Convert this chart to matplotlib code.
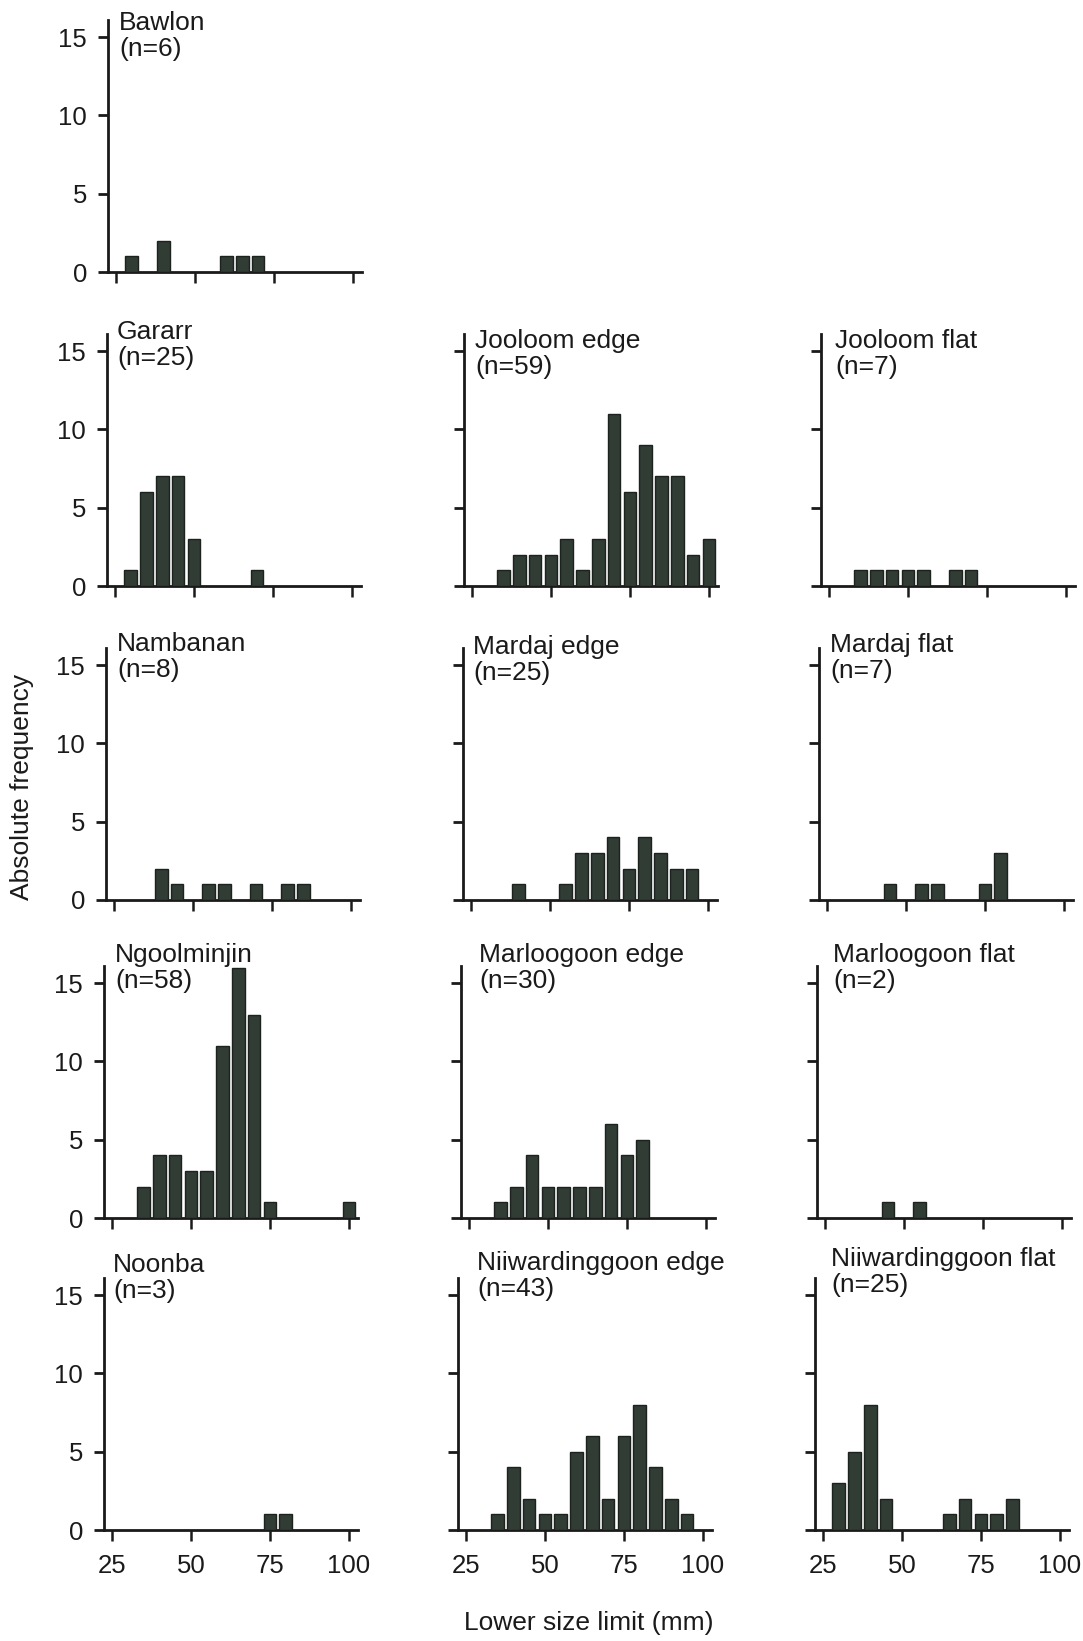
import matplotlib
matplotlib.use('Agg')
import matplotlib.pyplot as plt

plt.rcParams['font.family'] = ['Liberation Sans', 'DejaVu Sans']

# ---------------- data ----------------
site_names = ["Bawlon", "Gararr", "Jooloom edge", "Jooloom flat",
              "Nambanan", "Mardaj edge", "Mardaj flat",
              "Ngoolminjin", "Marloogoon edge", "Marloogoon flat",
              "Noonba", "Niiwardinggoon edge", "Niiwardinggoon flat"]
site_n = [6, 25, 59, 7, 8, 25, 7, 58, 30, 2, 3, 43, 25]

bawlon_size = [30, 40, 60, 65, 70]
bawlon_freq = [1, 2, 1, 1, 1]
gararr_size = [30, 35, 40, 45, 50, 70]
gararr_freq = [1, 6, 7, 7, 3, 1]
jooloom_edge_size = [35, 40, 45, 50, 55, 60, 65, 70, 75, 80, 85, 90, 95, 100]
jooloom_edge_freq = [1, 2, 2, 2, 3, 1, 3, 11, 6, 9, 7, 7, 2, 3]
jooloom_flat_size = [35, 40, 45, 50, 55, 65, 70]
jooloom_flat_freq = [1, 1, 1, 1, 1, 1, 1]
nambanan_size = [40, 45, 55, 60, 70, 80, 85]
nambanan_freq = [2, 1, 1, 1, 1, 1, 1]
mardaj_edge_size = [40, 55, 60, 65, 70, 75, 80, 85, 90, 95]
mardaj_edge_freq = [1, 1, 3, 3, 4, 2, 4, 3, 2, 2]
mardaj_flat_size = [45, 55, 60, 75, 80]
mardaj_flat_freq = [1, 1, 1, 1, 3]
ngoolminjin_size = [35, 40, 45, 50, 55, 60, 65, 70, 75, 100]
ngoolminjin_freq = [2, 4, 4, 3, 3, 11, 16, 13, 1, 1]
marloogoon_edge_size = [35, 40, 45, 50, 55, 60, 65, 70, 75, 80]
marloogoon_edge_freq = [1, 2, 4, 2, 2, 2, 2, 6, 4, 5]
marloogoon_flat_size = [45, 55]
marloogoon_flat_freq = [1, 1]
noonba_size = [75, 80]
noonba_freq = [1, 1]
niiw_edge_size = [35, 40, 45, 50, 55, 60, 65, 70, 75, 80, 85, 90, 95]
niiw_edge_freq = [1, 4, 2, 1, 1, 5, 6, 2, 6, 8, 4, 2, 1]
niiw_flat_size = [30, 35, 40, 45, 65, 70, 75, 80, 85]
niiw_flat_freq = [3, 5, 8, 2, 1, 2, 1, 1, 2]

x_ticks = [25, 50, 75, 100]
y_ticks = [0, 5, 10, 15]

site_sizes = [bawlon_size, gararr_size, jooloom_edge_size, jooloom_flat_size,
              nambanan_size, mardaj_edge_size, mardaj_flat_size,
              ngoolminjin_size, marloogoon_edge_size, marloogoon_flat_size,
              noonba_size, niiw_edge_size, niiw_flat_size]
site_freqs = [bawlon_freq, gararr_freq, jooloom_edge_freq, jooloom_flat_freq,
              nambanan_freq, mardaj_edge_freq, mardaj_flat_freq,
              ngoolminjin_freq, marloogoon_edge_freq, marloogoon_flat_freq,
              noonba_freq, niiw_edge_freq, niiw_flat_freq]

# ---------------- layout (pixels) ----------------
W, H = 1083, 1641
grid = [(0, 0), (1, 0), (1, 1), (1, 2), (2, 0), (2, 1), (2, 2),
        (3, 0), (3, 1), (3, 2), (4, 0), (4, 1), (4, 2)]
row_base = [272, 586, 900, 1218, 1530]
col_left = [[108, 0, 0], [107, 464, 821], [106, 463, 819],
            [104, 461, 817], [104, 458, 815]]
# title offsets (dx right of axis, dy above axis top) in px
title_off = [(11, 9), (10, 14), (11, 5), (14, 5), (11, 16), (10, 13), (11, 15),
             (11, 23), (18, 23), (16, 23), (9, 25), (19, 27), (16, 31)]
ax_w, ax_h = 254, 252

bar_color = '#313c35'
edge_color = '#1c221e'
fs = 18
fs_title = 19
fs_label = 19

fig = plt.figure(figsize=(W / 100, H / 100), dpi=100)

for i, name in enumerate(site_names):
    r, c = grid[i]
    left = col_left[r][c]
    base = row_base[r]
    ax = fig.add_axes([left / W, 1 - base / H, ax_w / W, ax_h / H])
    ax.bar(site_sizes[i], site_freqs[i], width=4.0, color=bar_color,
           edgecolor=edge_color, linewidth=1.0, zorder=3)
    ax.set_xlim(22.5, 102.9)
    ax.set_ylim(0, 16.1)
    for s in ['top', 'right']:
        ax.spines[s].set_visible(False)
    for s in ['left', 'bottom']:
        ax.spines[s].set_linewidth(2.0)
        ax.spines[s].set_color('#1a1a1a')
    ax.set_xticks(x_ticks)
    ax.set_yticks(y_ticks)
    ax.tick_params(axis='x', direction='out', length=8, width=1.8,
                   colors='#1a1a1a', labelsize=fs + 0.5, pad=9)
    ax.tick_params(axis='y', direction='out', length=7, width=2.0,
                   colors='#1a1a1a', labelsize=fs + 0.5, pad=8)
    if c != 0:
        ax.set_yticklabels([])
    if r != 4:
        ax.set_xticklabels([])
    ax.patch.set_alpha(0)
    dx, dy = title_off[i]
    ax.annotate(f"{name}\n(n={site_n[i]})", xy=(0, 1), xycoords='axes fraction',
                xytext=(dx * 0.72, dy * 0.72), textcoords='offset points',
                ha='left', va='top', fontsize=fs_title, color='#1a1a1a',
                linespacing=1.12)

fig.text(22 / W, 1 - 787 / H, "Absolute frequency", rotation=90,
         ha='center', va='center', fontsize=fs_label, color='#1a1a1a')
fig.text(589 / W, 1 - 1623 / H, "Lower size limit (mm)",
         ha='center', va='center', fontsize=fs_label, color='#1a1a1a')

fig.savefig('out.png', dpi=100, facecolor='white')
